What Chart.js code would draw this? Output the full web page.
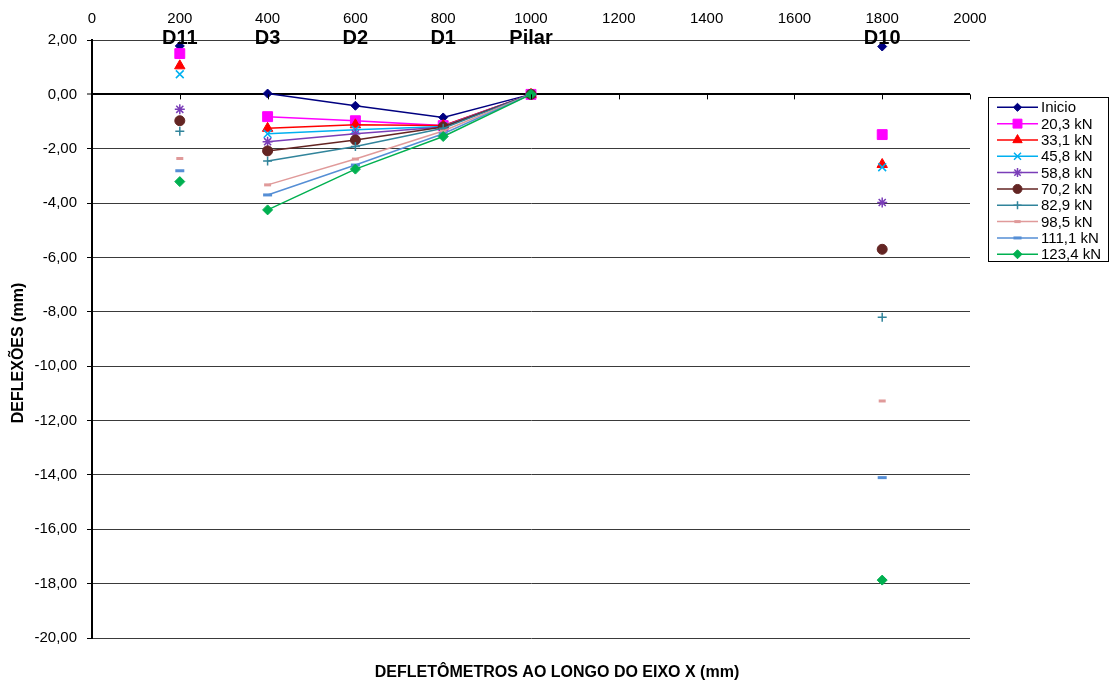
<!DOCTYPE html>
<html><head><meta charset="utf-8">
<script src="https://cdn.jsdelivr.net/npm/chart.js@4/dist/chart.umd.min.js"></script>
<style>html,body{margin:0;padding:0;background:#fff;}#wrap{width:1111px;height:682px;position:relative;}</style>
</head><body><div id="wrap"><canvas id="c" width="1111" height="682"></canvas></div>
<script>
// ---- data ----
const xPositions = [200, 400, 600, 800, 1000, 1800];
const sensorLabels = ['D11', 'D3', 'D2', 'D1', 'Pilar', 'D10'];
const seriesNames = ['Inicio', '20,3 kN', '33,1 kN', '45,8 kN', '58,8 kN', '70,2 kN', '82,9 kN', '98,5 kN', '111,1 kN', '123,4 kN'];
const inicio  = [1.78, 0.03, -0.42, -0.85, 0, 1.76];
const kN20_3  = [1.50, -0.82, -0.97, -1.15, 0, -1.48];
const kN33_1  = [1.05, -1.25, -1.12, -1.15, 0, -2.58];
const kN45_8  = [0.74, -1.45, -1.30, -1.18, 0, -2.68];
const kN58_8  = [-0.55, -1.74, -1.45, -1.20, 0, -3.98];
const kN70_2  = [-0.97, -2.08, -1.68, -1.20, 0, -5.70];
const kN82_9  = [-1.36, -2.45, -1.92, -1.25, 0, -8.20];
const kN98_5  = [-2.36, -3.33, -2.38, -1.35, 0, -11.28];
const kN111_1 = [-2.81, -3.70, -2.60, -1.45, 0, -14.10];
const kN123_4 = [-3.21, -4.25, -2.75, -1.55, 0, -17.87];
const seriesValues = [inicio, kN20_3, kN33_1, kN45_8, kN58_8, kN70_2, kN82_9, kN98_5, kN111_1, kN123_4];
const xTickValues = [0, 200, 400, 600, 800, 1000, 1200, 1400, 1600, 1800, 2000];
const yTickValues = [2, 0, -2, -4, -6, -8, -10, -12, -14, -16, -18, -20];

// ---- styles ----
const colors = ['#000080', '#FF00FF', '#FF0000', '#00B0F0', '#7A3DB8', '#632523', '#31849B', '#E09A9A', '#558ED5', '#00B050'];
const pStyles = ['rectRot', 'rect', 'triangle', 'crossRot', 'star', 'circle', 'cross', 'line', 'line', 'rectRot'];
const pRadius = [4.5, 7, 6, 5.5, 5, 5, 4.5, 3.5, 4.5, 5];
const pBorder = [1, 1, 1, 1.5, 1.5, 1, 1.5, 3, 3, 1];
const FONT = '"Liberation Sans", Arial, sans-serif';

const datasets = seriesNames.map((name, i) => ({
  label: name,
  data: xPositions.map((x, j) => ({ x: x, y: seriesValues[i][j] })),
  borderColor: colors[i],
  backgroundColor: colors[i],
  borderWidth: 1.5,
  pointStyle: pStyles[i],
  pointRadius: pRadius[i],
  pointHoverRadius: pRadius[i],
  pointBorderWidth: pBorder[i],
  pointBackgroundColor: colors[i],
  pointBorderColor: colors[i],
  order: seriesNames.length - i,
  showLine: true,
  fill: false,
  tension: 0,
  segment: {
    borderColor: ctx => (ctx.p0DataIndex === 0 || ctx.p1DataIndex === xPositions.length - 1) ? 'rgba(0,0,0,0)' : undefined
  }
}));

const overlay = {
  id: 'overlay',
  afterDraw(chart) {
    const ctx = chart.ctx, xs = chart.scales.x, ys = chart.scales.y;
    ctx.save();
    // tick marks on the zero line
    const y0 = ys.getPixelForValue(0);
    ctx.strokeStyle = '#000'; ctx.lineWidth = 1;
    xTickValues.forEach(v => {
      const px = Math.round(xs.getPixelForValue(v)) + 0.5;
      ctx.beginPath(); ctx.moveTo(px, y0); ctx.lineTo(px, y0 + 5); ctx.stroke();
    });
    // sensor labels
    ctx.fillStyle = '#000';
    ctx.font = 'bold 20px ' + FONT;
    ctx.textAlign = 'center'; ctx.textBaseline = 'alphabetic';
    sensorLabels.forEach((s, i) => ctx.fillText(s, xs.getPixelForValue(xPositions[i]), 43.5));
    // axis titles
    ctx.font = 'bold 16px ' + FONT;
    ctx.textBaseline = 'middle';
    ctx.fillText('DEFLETÔMETROS AO LONGO DO EIXO X (mm)', 557, 673);
    ctx.save();
    ctx.translate(19, 353); ctx.rotate(-Math.PI / 2);
    ctx.fillText('DEFLEXÕES (mm)', 0, 0);
    ctx.restore();
    // legend
    ctx.strokeStyle = '#000'; ctx.lineWidth = 1;
    ctx.strokeRect(988.5, 97.5, 120, 164);
    ctx.font = '15px ' + FONT;
    ctx.textAlign = 'left';
    chart.data.datasets.forEach((ds, i) => {
      const ly = 107.3 + i * 16.33;
      ctx.strokeStyle = ds.borderColor; ctx.lineWidth = 1.5;
      ctx.beginPath(); ctx.moveTo(997, ly); ctx.lineTo(1038, ly); ctx.stroke();
      ctx.fillStyle = ds.pointBackgroundColor; ctx.strokeStyle = ds.pointBorderColor;
      ctx.lineWidth = ds.pointBorderWidth;
      Chart.helpers.drawPoint(ctx, { pointStyle: ds.pointStyle, radius: ds.pointRadius * 0.9, rotation: 0, borderWidth: ds.pointBorderWidth }, 1017.5, ly);
      ctx.fillStyle = '#000';
      ctx.fillText(ds.label, 1041, ly + 1);
    });
    ctx.restore();
  }
};

new Chart(document.getElementById('c'), {
  type: 'scatter',
  data: { datasets: datasets },
  plugins: [overlay],
  options: {
    responsive: false,
    devicePixelRatio: 1,
    animation: false,
    layout: { padding: { left: 0, right: 141, top: 0, bottom: 0 } },
    plugins: { legend: { display: false }, tooltip: { enabled: false }, title: { display: false } },
    scales: {
      x: {
        type: 'linear', position: 'top', min: 0, max: 2000,
        afterBuildTicks: s => { s.ticks = xTickValues.map(v => ({ value: v })); },
        afterFit: s => { s.height = 40; },
        ticks: { color: '#000', font: { family: FONT, size: 15 }, padding: 12, maxRotation: 0, autoSkip: false,
          callback: v => String(v) },
        grid: { display: true, drawOnChartArea: false, drawTicks: false },
        border: { display: false }
      },
      x2: {
        type: 'linear', position: 'bottom', min: 0, max: 2000, axis: 'x',
        afterFit: s => { s.height = 44; },
        ticks: { display: false },
        grid: { display: false, drawTicks: false },
        border: { display: false }
      },
      y: {
        type: 'linear', position: 'left', min: -20, max: 2,
        afterBuildTicks: s => { s.ticks = yTickValues.map(v => ({ value: v })); },
        afterFit: s => { s.width = 92; },
        ticks: {
          color: '#000', font: { family: FONT, size: 15 }, padding: 10, autoSkip: false,
          callback: v => v.toFixed(2).replace('.', ',')
        },
        grid: {
          color: c => (c.tick && c.tick.value === 0) ? '#000' : '#3a3a3a',
          lineWidth: c => (c.tick && c.tick.value === 0) ? 2 : 1,
          tickColor: '#000', tickLength: 5, tickWidth: 1
        },
        border: { display: true, color: '#000', width: 2 }
      }
    }
  }
});
</script></body></html>
